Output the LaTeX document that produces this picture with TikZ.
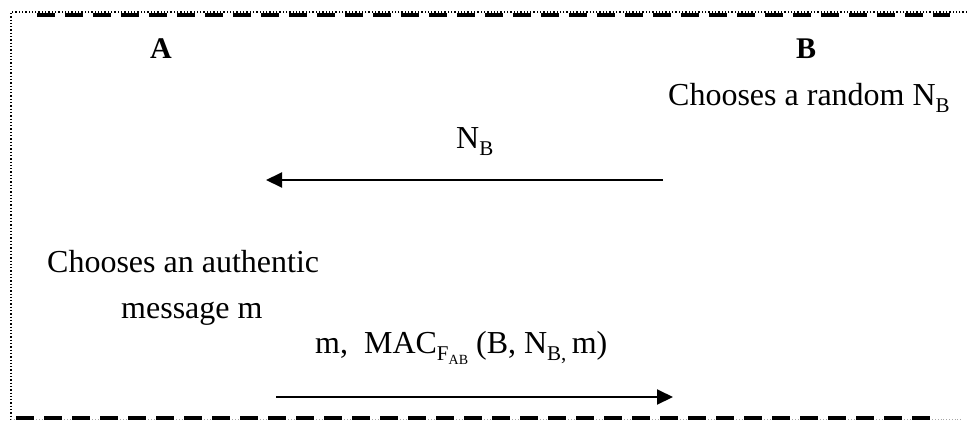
\documentclass[tikz,border=0pt]{standalone}
\usepackage{fontspec}
\setmainfont{Liberation Serif}
\usetikzlibrary{arrows.meta}
\newcommand\lowsub[1]{\raisebox{-0.22em}{\fontsize{21}{21}\selectfont #1}}
\newcommand\tinysub[1]{\raisebox{-0.2em}{\fontsize{14}{14}\selectfont #1}}
\begin{document}
\begin{tikzpicture}[x=1pt,y=-1pt,
  txt/.style={anchor=base west, inner sep=0pt, font=\fontsize{32}{38}\selectfont},
  party/.style={anchor=base, inner sep=0pt, font=\fontsize{30}{36}\selectfont\bfseries},
  msg/.style={line width=2pt, -{Triangle[length=16pt,width=15pt]}},
  thickdash/.style={line width=4pt, dash pattern=on 18pt off 10pt}]
\useasboundingbox (0,0) rectangle (967,421);
% frame
\draw[dotted, line width=1.3pt] (967,12) -- (11,12) -- (11,419);
\draw[black!35, dotted, line width=0.8pt] (11,419.5) -- (962,419.5);
\draw[thickdash] (37,15) -- (950,15);
\draw[thickdash] (16,418) -- (930,418);
% parties
\node[party] (A) at (161,58) {A};
\node[party] (B) at (806,58) {B};
% texts
\node[txt] (chooseB) at (668,105) {Chooses a random N\lowsub{B}};
\node[txt] (nb) at (456,148) {N\lowsub{B}};
\node[txt] (chooseA1) at (47,272) {Chooses an authentic};
\node[txt] (chooseA2) at (121,318) {message m};
\node[txt] (mac) at (315,353) {m,\ \ MAC\lowsub{F\tinysub{AB}}\ (B, N\lowsub{B,}\,m)};
% arrows
\coordinate (m1s) at (663,180);
\coordinate (m1e) at (266,180);
\coordinate (m2s) at (276,397);
\coordinate (m2e) at (673,397);
\draw[msg] (m1s) -- (m1e);
\draw[msg] (m2s) -- (m2e);
\end{tikzpicture}
\end{document}
